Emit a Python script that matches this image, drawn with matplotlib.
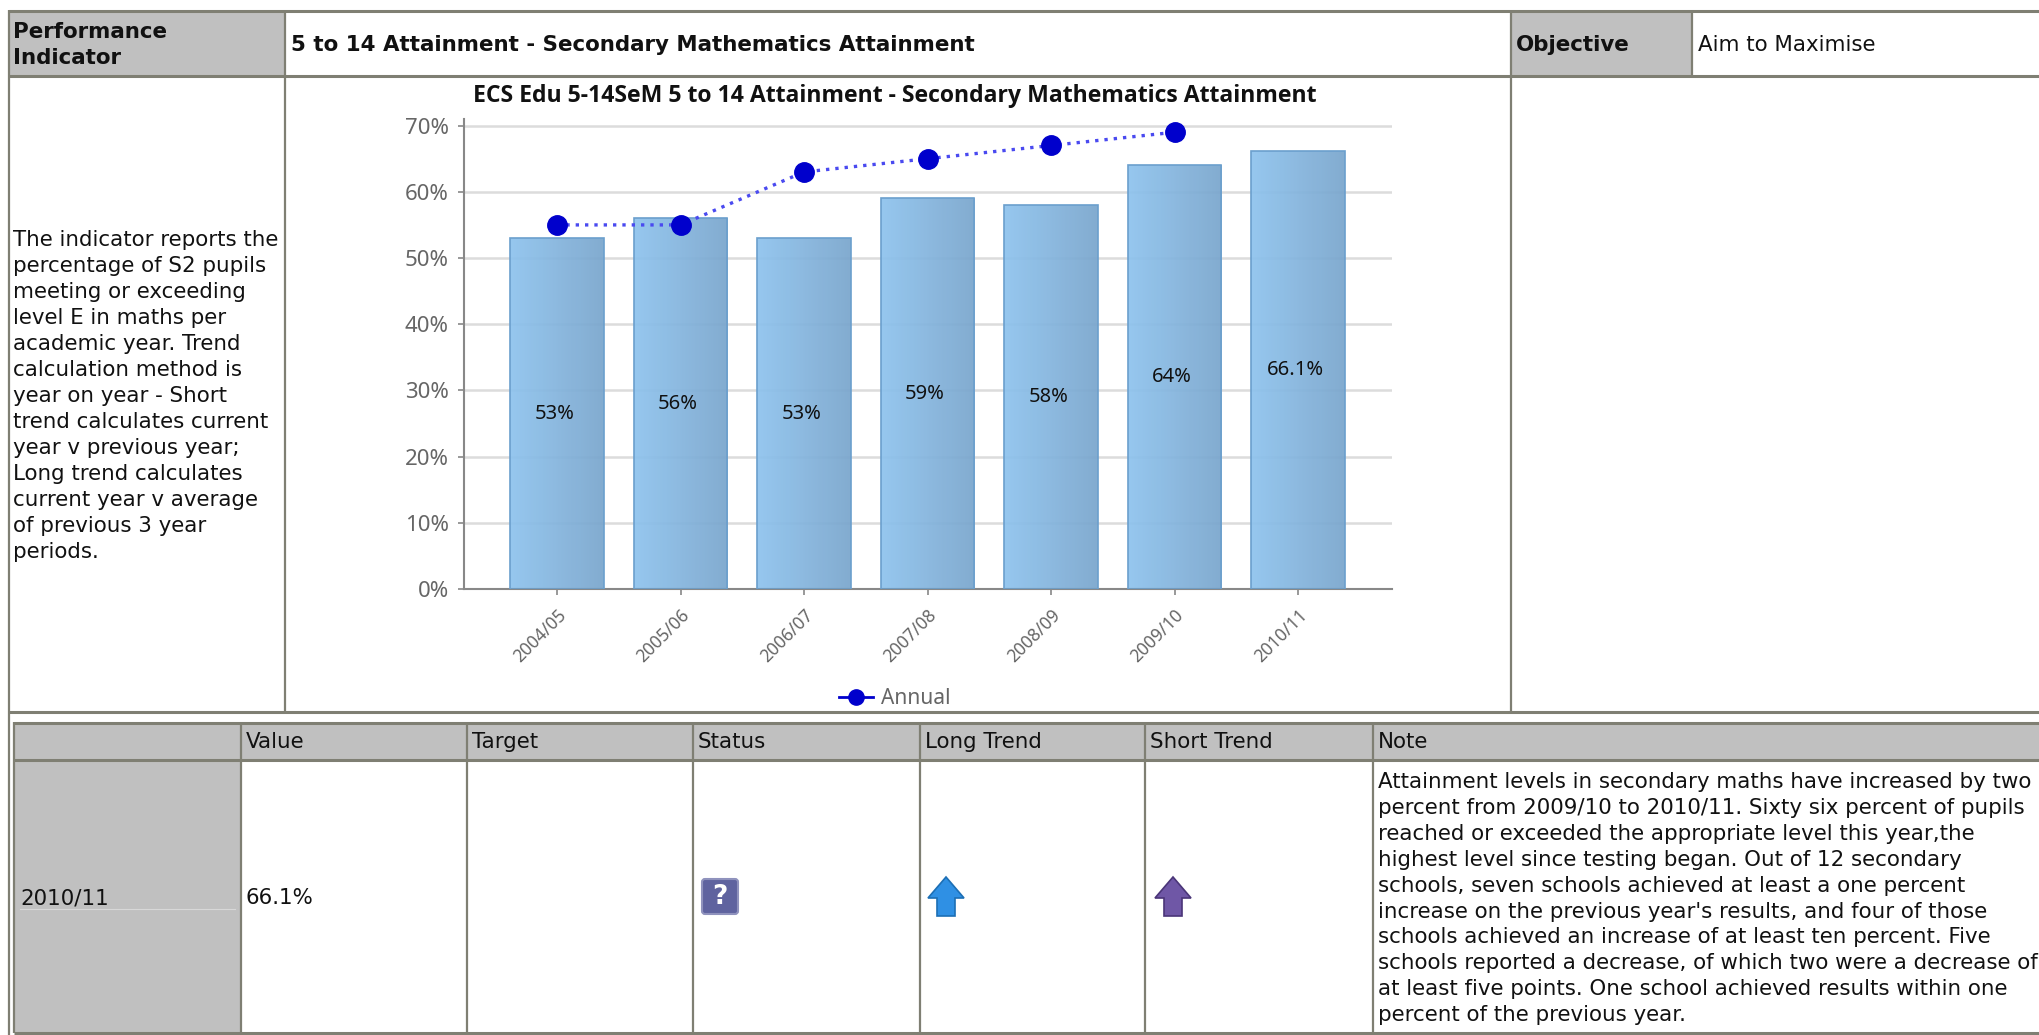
import matplotlib
matplotlib.use('Agg')
import matplotlib.pyplot as plt
import numpy as np
from matplotlib.colors import LinearSegmentedColormap
from matplotlib.lines import Line2D
from matplotlib.patches import Rectangle, Polygon, FancyBboxPatch

years = ['2004/05', '2005/06', '2006/07', '2007/08', '2008/09', '2009/10', '2010/11']
barValues = [53, 56, 53, 59, 58, 64, 66.1]
barLabels = ['53%', '56%', '53%', '59%', '58%', '64%', '66.1%']
annualValues = [55, 55, 63, 65, 67, 69]
yTicks = [0, 10, 20, 30, 40, 50, 60, 70]

chartTitle = 'ECS Edu 5-14SeM 5 to 14 Attainment - Secondary Mathematics Attainment'
indicatorTitle = '5 to 14 Attainment - Secondary Mathematics Attainment'
descriptionLines = ['The indicator reports the', 'percentage of S2 pupils', 'meeting or exceeding',
	'level E in maths per', 'academic year. Trend', 'calculation method is', 'year on year - Short',
	'trend calculates current', 'year v previous year;', 'Long trend calculates',
	'current year v average', 'of previous 3 year', 'periods.']
noteLines = ['Attainment levels in secondary maths have increased by two',
	'percent from 2009/10 to 2010/11. Sixty six percent of pupils',
	'reached or exceeded the appropriate level this year,the',
	'highest level since testing began. Out of 12 secondary',
	'schools, seven schools achieved at least a one percent',
	"increase on the previous year's results, and four of those",
	'schools achieved an increase of at least ten percent. Five',
	'schools reported a decrease, of which two were a decrease of',
	'at least five points. One school achieved results within one',
	'percent of the previous year.']
tableHeaders = ['Value', 'Target', 'Status', 'Long Trend', 'Short Trend', 'Note']
headerColumns = [241, 467, 693, 920, 1145, 1373]

W, H = 2040, 1035
lineColor = '#7f7f73'
cellColor = '#c0c0c0'
textFont = 'DejaVu Sans'
chartFont = 'Noto Sans'
titleFont = 'Open Sans'
textSize = 15.4

fig = plt.figure(figsize=(W / 100, H / 100), dpi=100, facecolor='white')

# page layer in pixel coordinates, table lines and text
page = fig.add_axes([0, 0, 1, 1])
page.set_xlim(0, W)
page.set_ylim(H, 0)
page.axis('off')

def cell(x0, y0, x1, y1):
	page.add_patch(Rectangle((x0, y0), x1 - x0, y1 - y0, fc=cellColor, ec='none', zorder=1))

def hline(y, x0, x1=W, lw=2.2):
	page.plot([x0, x1], [y, y], color=lineColor, lw=lw, solid_capstyle='butt', zorder=2)

def vline(x, y0, y1, lw=1.6):
	page.plot([x, x], [y0, y1], color=lineColor, lw=lw, solid_capstyle='butt', zorder=2)

def label(x, y, s, bold=False):
	page.text(x, y, s, family=textFont, fontsize=textSize, va='center', ha='left',
		fontweight='bold' if bold else 'normal', color='#111111', zorder=3)

# grey cells
cell(10, 11, 285, 75)
cell(1511, 11, 1692, 75)
cell(14, 723, W, 760)
cell(14, 760, 241, 1032)
page.plot([20, 235], [909, 909], color='#d8d8d8', lw=0.8, zorder=2)

# upper table
hline(10.5, 9)
hline(75.5, 9)
hline(712, 9)
vline(9.5, 10, 1035)
for x, y0, y1 in [(285, 10, 712), (1511, 10, 712), (1692, 10, 75)]:
	vline(x, y0, y1)

# lower table
hline(722.5, 14)
hline(760, 14)
hline(1033, 14)
vline(14, 722, 1033)
for x in headerColumns:
	vline(x, 722, 1033)

label(13, 32, 'Performance', True)
label(13, 58, 'Indicator', True)
label(291, 45, indicatorTitle, True)
label(1516, 45, 'Objective', True)
label(1698, 45, 'Aim to Maximise')

for i, s in enumerate(descriptionLines):
	label(13, 240 + i * 26, s)
for x, s in zip(headerColumns, tableHeaders):
	label(x + 5, 742, s)
label(20, 898, years[-1])
label(246, 898, barLabels[-1])
for i, s in enumerate(noteLines):
	label(1378, 782 + i * 25.9, s)

# status icons
page.add_patch(FancyBboxPatch((702, 879), 36, 35, boxstyle='round,pad=0,rounding_size=3',
	fc='#5f639f', ec='#8f92bd', lw=1.5, zorder=3))
page.text(720, 897, '?', color='white', fontsize=19, fontweight='bold', family=textFont,
	ha='center', va='center', zorder=4)

def arrow(cx, fill, edge):
	pts = [(cx, 877), (cx + 18, 898), (cx + 9, 898), (cx + 9, 916),
		(cx - 9, 916), (cx - 9, 898), (cx - 18, 898)]
	page.add_patch(Polygon(pts, closed=True, fc=fill, ec=edge, lw=1.2, zorder=3))

arrow(946, '#2f90e4', '#1c6fb5')
arrow(1173, '#6f57a6', '#4a3578')

# chart, placed over the page in pixel position
axLeft, axRight, axBottom, axTop = 464, 1392, 589, 119
ax = fig.add_axes([axLeft / W, 1 - axBottom / H, (axRight - axLeft) / W, (axBottom - axTop) / H])
ax.patch.set_alpha(0)
positions = np.arange(len(years))

ax.yaxis.grid(True, color='#dcdcdc', lw=1.8, zorder=1)
ax.set_axisbelow(True)

barCmap = LinearSegmentedColormap.from_list('bar', ['#8ec3ee', '#7aa6cd'])
gradient = np.linspace(0, 1, 64).reshape(1, -1)
bars = ax.bar(positions, barValues, width=0.755, facecolor='none', edgecolor='#6b9fcd', lw=1.2, zorder=3)
for bar in bars:
	x0 = bar.get_x()
	im = ax.imshow(gradient, cmap=barCmap, extent=[x0, x0 + bar.get_width(), 0, bar.get_height()],
		aspect='auto', alpha=0.93, zorder=2)

ax.plot(positions[:len(annualValues)], annualValues, ls=(0, (1, 1.8)), lw=2.4, color='#4a4af0', marker='o', ms=14,
	markerfacecolor='#0000cc', markeredgecolor='#0000cc', zorder=4)

for x, v, s in zip(positions, barValues, barLabels):
	ax.text(x - 0.02, v / 2, s, ha='center', va='center', family=chartFont, fontsize=14.5, color='#111111', zorder=5)

ax.set_xlim(-0.753, 6.76)
ax.set_ylim(0, 71)
ax.set_yticks(yTicks)
ax.set_yticklabels(['%d%%' % t for t in yTicks], family=chartFont, fontsize=16, color='#666666')
ax.set_xticks(positions)
ax.set_xticklabels(years, rotation=45, ha='right', rotation_mode='anchor', family=chartFont,
	fontsize=12.5, color='#666666')
ax.tick_params(axis='both', color='#888888', length=4, width=1.2)
ax.tick_params(axis='x', pad=8)
ax.tick_params(axis='y', pad=7)
for side in ['top', 'right']:
	ax.spines[side].set_visible(False)
for side in ['left', 'bottom']:
	ax.spines[side].set_color('#888888')
	ax.spines[side].set_linewidth(1.5)

fig.text(895 / W, 1 - 96 / H, chartTitle, family=titleFont, fontweight='bold', fontsize=16.6,
	ha='center', va='center', color='#111111')

handle = Line2D([], [], color='#0000cc', lw=2, marker='o', ms=11)
fig.legend([handle], ['Annual'], loc='center', bbox_to_anchor=(895 / W, 1 - 699 / H), frameon=False,
	prop={'family': chartFont, 'size': 15}, labelcolor='#666666', handlelength=1.6, handletextpad=0.4)

fig.savefig('out.png', dpi=100)
